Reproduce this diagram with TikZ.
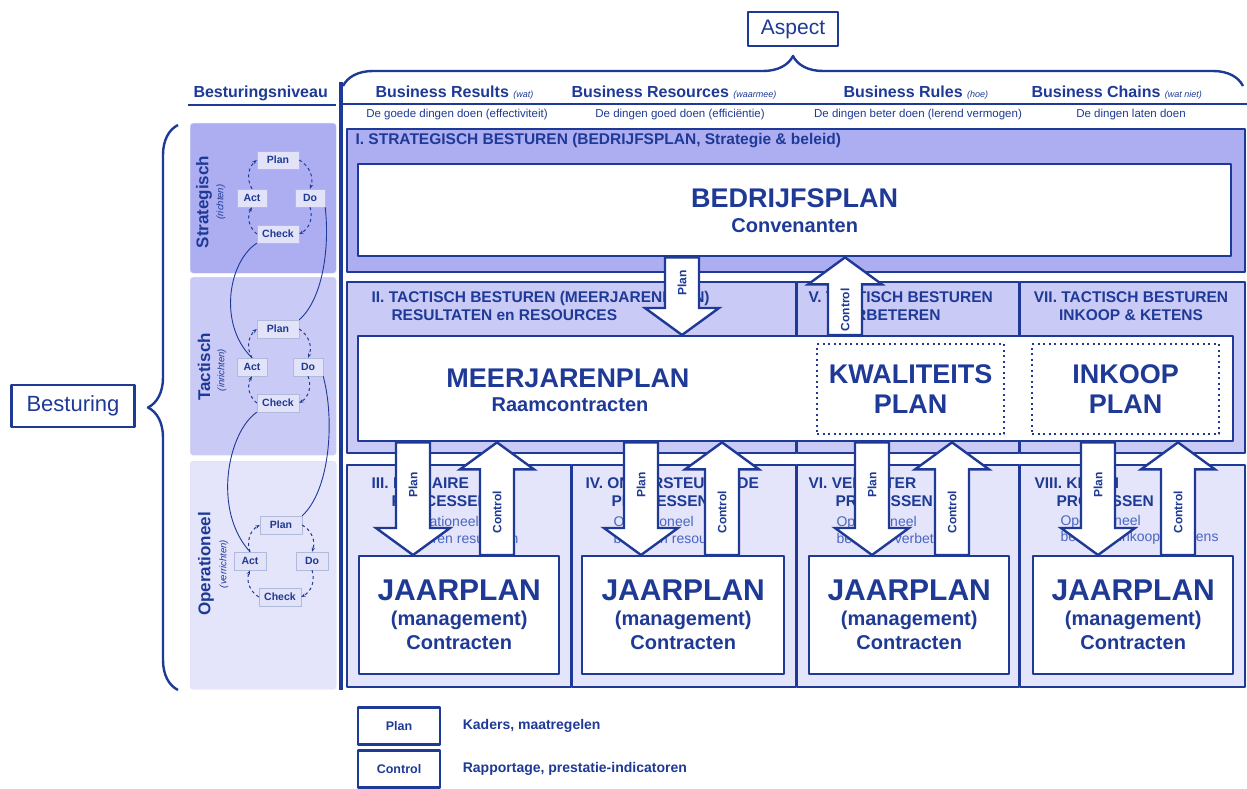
\documentclass[tikz,border=0pt]{standalone}
\usepackage{fontspec}
\setmainfont{Liberation Sans}
\usetikzlibrary{arrows.meta,positioning,calc,decorations.pathreplacing}
\definecolor{Ink}{HTML}{1E3A96}
\definecolor{Soft}{HTML}{4A66C4}
\definecolor{Strat}{HTML}{ADADF2}
\definecolor{Tact}{HTML}{CACAF6}
\definecolor{Oper}{HTML}{E4E4FA}
\definecolor{Chip}{HTML}{E2E2F8}
\newcommand{\fsz}[2]{\fontsize{#1}{#2}\selectfont}
\tikzset{
  panel/.style={draw=Ink,line width=1.6pt,anchor=north west,inner sep=0pt},
  cell/.style={draw=Ink!15,anchor=north west,inner sep=0pt,rounded corners=3pt},
  wbox/.style={draw=Ink,line width=2.4pt,fill=white,anchor=north west,inner sep=0pt,align=center,text=Ink,font=\bfseries\fsz{20}{24}},
  dbox/.style={draw=Ink,line width=2pt,dash pattern=on 2pt off 3.5pt,anchor=north west,inner sep=0pt,align=center,text=Ink,font=\bfseries\fsz{27}{30}},
  big/.style={text=Ink,font=\bfseries\fsz{27}{30}},
  sub/.style={text=Ink,font=\bfseries\fsz{20}{22}},
  ttl/.style={anchor=west,align=left,text=Ink,font=\bfseries\fsz{15.5}{18.5}},
  note/.style={anchor=west,align=left,text=Soft,font=\fsz{14}{16.5}},
  head/.style={anchor=west,text=Ink,font=\bfseries\fsz{16}{18}},
  subhead/.style={text=Ink,font=\fsz{11.5}{13}},
  blk/.style={draw=Ink,line width=2.4pt,fill=white,line join=miter},
  arrlbl/.style={rotate=90,text=Ink,font=\bfseries\fsz{12}{13},inner sep=1pt},
  chip/.style={draw=Ink!35,fill=Chip,text=Ink,font=\bfseries\fsz{10.5}{12},minimum height=18pt,inner sep=1pt},
  cyc/.style={Ink,line width=1pt,dashed,-{Stealth[length=1.6mm]}},
  link/.style={Ink,line width=0.9pt},
  lvl/.style={rotate=90,text=Ink,font=\bfseries\fsz{17}{19}},
  lvlsub/.style={rotate=90,text=Ink,font=\itshape\fsz{9.5}{11}},
  brc/.style={decorate,decoration={brace,amplitude=30pt},draw=Ink,line width=2.4pt},
  frame/.style={draw=Ink,line width=2.6pt,text=Ink},
  leg/.style={frame,minimum width=82pt,minimum height=37pt,font=\bfseries\fsz{12.5}{14}},
  legtxt/.style={text=Ink,font=\bfseries\fsz{14}{16},anchor=west},
}
% block arrow down: name, x, upper node, lower node
\newcommand{\planarrow}[4]{%
  \coordinate (#1a) at (#2,0 |- #3.south);
  \coordinate (#1b) at (#2,0 |- #4.north);
  \coordinate (#1c) at ([yshift=27pt]#1b);
  \draw[blk] ([xshift=-17pt]#1a) -- ([xshift=17pt]#1a) -- ([xshift=17pt]#1c)
    -- ([xshift=37pt]#1c) -- (#1b) -- ([xshift=-37pt]#1c) -- ([xshift=-17pt]#1c) -- cycle;
  \node[arrlbl] (#1) at ($(#1a)!.5!(#1c)$) {Plan};}
% block arrow up: name, x, lower node, upper node
\newcommand{\ctrlarrow}[4]{%
  \coordinate (#1a) at (#2,0 |- #3.north);
  \coordinate (#1b) at (#2,0 |- #4.south);
  \coordinate (#1c) at ([yshift=-27pt]#1b);
  \draw[blk] ([xshift=-17pt]#1a) -- ([xshift=17pt]#1a) -- ([xshift=17pt]#1c)
    -- ([xshift=37pt]#1c) -- (#1b) -- ([xshift=-37pt]#1c) -- ([xshift=-17pt]#1c) -- cycle;
  \node[arrlbl] (#1) at ($(#1a)!.5!(#1c)$) {Control};}

\begin{document}
\begin{tikzpicture}[x=1pt,y=-1pt,line join=round]
\useasboundingbox[fill=white] (0,0) rectangle (1247,789);

% aspect
\node[frame,font=\fsz{21}{24},minimum width=90pt,minimum height=34pt] (asp) at (793,29) {Aspect};
\draw[brc] (343,86) -- (1243,86);
\node[head] (h1) at (372,93) {Business Results {\mdseries\itshape\fsz{9}{10}(wat)}};
\node[head] (h2) at (568,93) {Business Resources {\mdseries\itshape\fsz{9}{10}(waarmee)}};
\node[head] (h3) at (840,93) {Business Rules {\mdseries\itshape\fsz{9}{10}(hoe)}};
\node[head] (h4) at (1028,93) {Business Chains {\mdseries\itshape\fsz{9}{10}(wat niet)}};
\node[subhead] (s1) at (457,115) {De goede dingen doen (effectiviteit)};
\node[subhead] (s2) at (680,115) {De dingen goed doen (efficiëntie)};
\node[subhead] (s3) at (918,115) {De dingen beter doen (lerend vermogen)};
\node[subhead] (s4) at (1131,115) {De dingen laten doen};
\draw[Ink,line width=1.8pt] (343,104) -- (1247,104);
\node[head] (bn) at (190,93) {Besturingsniveau};
\draw[Ink,line width=1.8pt] (188,105) -- (336,105);

% besturingsniveaus
\node[cell,fill=Strat,minimum width=146pt,minimum height=150pt] (cS) at (190,123) {};
\node[cell,fill=Tact,minimum width=146pt,minimum height=178pt] (cT) at (190,277) {};
\node[cell,fill=Oper,minimum width=146pt,minimum height=228pt] (cO) at (190,461) {};
\node[lvl] (lS) at (204,202) {Strategisch};
\node[lvlsub] (lSs) at (221,202) {(richten)};
\node[lvl] (lT) at (204,367) {Tactisch};
\node[lvlsub] (lTs) at (222,370) {(inrichten)};
\node[lvl] (lO) at (206,564) {Operationeel};
\node[lvlsub] (lOs) at (224,564) {(verrichten)};

\node[chip,minimum width=42pt] (sPlan) at (278,160) {Plan};
\node[chip,minimum width=30pt] (sAct) at (252,198) {Act};
\node[chip,minimum width=30pt] (sDo) at (310,198) {Do};
\node[chip,minimum width=42pt] (sCheck) at (278,234) {Check};
\node[chip,minimum width=42pt] (tPlan) at (278,329) {Plan};
\node[chip,minimum width=30pt] (tAct) at (252,367) {Act};
\node[chip,minimum width=30pt] (tDo) at (308,367) {Do};
\node[chip,minimum width=42pt] (tCheck) at (278,403) {Check};
\node[chip,minimum width=42pt] (oPlan) at (281,525) {Plan};
\node[chip,minimum width=32pt] (oAct) at (250,561) {Act};
\node[chip,minimum width=32pt] (oDo) at (312,561) {Do};
\node[chip,minimum width=42pt] (oCheck) at (280,597) {Check};
\foreach \l in {s,t,o}{
  \draw[cyc] (\l Plan.east) to[bend left=40] (\l Do.north);
  \draw[cyc] (\l Do.south) to[bend left=40] (\l Check.east);
  \draw[cyc] (\l Check.west) to[bend left=40] (\l Act.south);
  \draw[cyc] (\l Act.north) to[bend left=40] (\l Plan.west);
}
\draw[link] (sCheck.south west) .. controls (228,262) and (218,325) .. (tAct.north);
\draw[link] (sDo.south east) .. controls (330,250) and (322,300) .. (tPlan.north east);
\draw[link] (tCheck.south west) .. controls (228,432) and (212,510) .. (oAct.north);
\draw[link] (tDo.south east) .. controls (335,420) and (330,490) .. (oPlan.north east);
\draw[Ink,line width=3.5pt] (341,82) -- (341,690);

% panelen
\node[panel,fill=Strat,minimum width=898pt,minimum height=143pt] (pI) at (346,128) {};
\node[panel,fill=Tact,minimum width=449pt,minimum height=171pt] (pII) at (346,281) {};
\node[panel,fill=Tact,minimum width=222pt,minimum height=171pt] (pV) at (796,281) {};
\node[panel,fill=Tact,minimum width=225pt,minimum height=171pt] (pVII) at (1019,281) {};
\node[panel,fill=Oper,minimum width=224pt,minimum height=222pt] (pIII) at (346,464) {};
\node[panel,fill=Oper,minimum width=224pt,minimum height=222pt] (pIV) at (571,464) {};
\node[panel,fill=Oper,minimum width=222pt,minimum height=222pt] (pVI) at (796,464) {};
\node[panel,fill=Oper,minimum width=225pt,minimum height=222pt] (pVIII) at (1019,464) {};

\node[ttl] (tI) at (352,141) {I. STRATEGISCH BESTUREN (BEDRIJFSPLAN, Strategie \& beleid)};
\node[ttl] (tII) at (368,306) {II. TACTISCH BESTUREN (MEERJARENPLAN)\\\hspace*{20pt}RESULTATEN en RESOURCES};
\node[ttl] (tV) at (805,306) {V. TACTISCH BESTUREN\\\hspace*{26pt}VERBETEREN};
\node[ttl,align=center,anchor=center] (tVII) at (1131,306) {VII. TACTISCH BESTUREN\\INKOOP \& KETENS};
\node[ttl] (tIII) at (368,492) {III. PRIMAIRE\\\hspace*{20pt}PROCESSEN};
\node[ttl] (tIV) at (582,492) {IV. ONDERSTEUNENDE\\\hspace*{26pt}PROCESSEN};
\node[ttl] (tVI) at (805,492) {VI. VERBETER\\\hspace*{27pt}PROCESSEN};
\node[ttl] (tVIII) at (1031,492) {VIII. KETEN\\\hspace*{22pt}PROCESSEN};
\node[note] (nIII) at (395,530) {Operationeel\\besturen resultaten};
\node[note] (nIV) at (610,530) {Operationeel\\besturen resources};
\node[note] (nVI) at (833,530) {Operationeel\\besturen verbeteren};
\node[note] (nVIII) at (1057,530) {Operationeel\\besturen inkoop \& ketens};

% plannen
\node[wbox,minimum width=873pt,minimum height=92pt] (bp) at (357,163) {{\fsz{27}{30}BEDRIJFSPLAN}\\[1pt]Convenanten};
\node[wbox,minimum width=875pt,minimum height=105pt] (mp) at (357,335) {};
\node[big] (mpT) at (568,378) {MEERJARENPLAN};
\node[sub] (mpS) at (570,405) {Raamcontracten};
\node[dbox,minimum width=187pt,minimum height=90pt] (kp) at (816,343) {KWALITEITS\\PLAN};
\node[dbox,minimum width=187pt,minimum height=90pt] (ip) at (1031,343) {INKOOP\\PLAN};
\node[wbox,minimum width=200pt,minimum height=118pt] (j3) at (358,555) {{\fsz{30}{32}JAARPLAN}\\[1pt](management)\\Contracten};
\node[wbox,minimum width=202pt,minimum height=118pt] (j4) at (581,555) {{\fsz{30}{32}JAARPLAN}\\[1pt](management)\\Contracten};
\node[wbox,minimum width=200pt,minimum height=118pt] (j6) at (808,555) {{\fsz{30}{32}JAARPLAN}\\[1pt](management)\\Contracten};
\node[wbox,minimum width=200pt,minimum height=118pt] (j8) at (1032,555) {{\fsz{30}{32}JAARPLAN}\\[1pt](management)\\Contracten};

% plan en control
\planarrow{aP1}{682}{bp}{mp}
\ctrlarrow{aC1}{845}{mp}{bp}
\planarrow{aP3}{413}{mp}{j3}
\ctrlarrow{aC3}{497}{j3}{mp}
\planarrow{aP4}{641}{mp}{j4}
\ctrlarrow{aC4}{722}{j4}{mp}
\planarrow{aP6}{872}{mp}{j6}
\ctrlarrow{aC6}{952}{j6}{mp}
\planarrow{aP8}{1098}{mp}{j8}
\ctrlarrow{aC8}{1178}{j8}{mp}

% legenda
\node[leg] (lgP) at (399,726) {Plan};
\node[leg] (lgC) at (399,769) {Control};
\node[legtxt,right=18pt of lgP] (lgPt) {Kaders, maatregelen};
\node[legtxt,right=18pt of lgC] (lgCt) {Rapportage, prestatie-indicatoren};

% besturing
\node[frame,font=\fsz{22}{24},minimum width=123pt,minimum height=42pt] (best) at (73,406) {Besturing};
\draw[brc] (178,690) -- (178,125);
\end{tikzpicture}
\end{document}
